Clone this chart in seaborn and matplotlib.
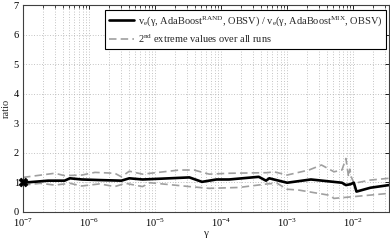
import numpy as np
import pandas as pd
import seaborn as sns
import matplotlib
matplotlib.use("Agg")
import matplotlib.pyplot as plt
from matplotlib.ticker import LogLocator, LogFormatterMathtext, NullFormatter

# ---- data (log10 gamma, ratio) ----
ratio_exp = [-7.0, -6.62, -6.37, -6.29, -6.11, -5.84, -5.51, -5.39, -5.19, -5.08,
             -4.48, -4.29, -4.07, -3.88, -3.43, -3.32, -3.27, -3.20, -3.00, -2.64,
             -2.17, -2.11, -2.04, -1.99, -1.95, -1.74, -1.46]
ratio_val = [0.99, 1.06, 1.06, 1.14, 1.10, 1.08, 1.06, 1.14, 1.10, 1.11,
             1.17, 1.02, 1.10, 1.10, 1.19, 1.06, 1.14, 1.10, 0.99, 1.10,
             0.99, 0.91, 0.94, 0.99, 0.69, 0.82, 0.91]

upper_exp = [-7.0, -6.52, -6.37, -6.11, -5.91, -5.61, -5.51, -5.39, -5.19, -4.63,
             -4.41, -4.18, -3.88, -3.30, -3.20, -3.00, -2.67, -2.48, -2.29, -2.17,
             -2.11, -2.07, -2.05, -2.03, -1.99, -1.74, -1.46]
upper_val = [1.17, 1.31, 1.23, 1.25, 1.34, 1.31, 1.19, 1.38, 1.28, 1.42,
             1.42, 1.28, 1.31, 1.33, 1.36, 1.25, 1.42, 1.59, 1.36, 1.42,
             1.81, 1.19, 1.45, 1.20, 0.97, 1.08, 1.14]

lower_exp = [-7.0, -6.74, -6.52, -6.29, -6.11, -5.84, -5.61, -5.45, -5.19, -5.08,
             -4.48, -4.18, -3.73, -3.30, -3.15, -3.00, -2.82, -2.37, -2.29, -1.99,
             -1.46]
lower_val = [0.91, 0.97, 0.91, 0.97, 0.88, 0.95, 0.86, 0.97, 0.86, 0.99,
             0.86, 0.80, 0.83, 0.95, 0.97, 0.77, 0.74, 0.57, 0.46, 0.52,
             0.63]

start_exp = [-7.0]
start_val = [1.0]

x_ticks_exp = [-7, -6, -5, -4, -3, -2]
y_ticks = [0, 1, 2, 3, 4, 5, 6, 7]

label_ratio = (r"v$_\mathrm{e}$(γ, AdaBoost$^\mathrm{RAND}$, OBSV) / "
               r"v$_\mathrm{e}$(γ, AdaBoost$^\mathrm{MIX}$, OBSV)")
label_ext = r"2$^\mathrm{nd}$ extreme values over all runs"

sns.set_theme(style="white")
plt.rcParams["font.family"] = ["Liberation Serif", "DejaVu Serif"]
plt.rcParams["mathtext.fontset"] = "custom"
plt.rcParams["mathtext.rm"] = "Liberation Serif"
plt.rcParams["mathtext.it"] = "Liberation Serif:italic"
plt.rcParams["mathtext.bf"] = "Liberation Serif:bold"

df_r = pd.DataFrame({"g": 10.0 ** np.array(ratio_exp), "v": ratio_val})
df_u = pd.DataFrame({"g": 10.0 ** np.array(upper_exp), "v": upper_val})
df_l = pd.DataFrame({"g": 10.0 ** np.array(lower_exp), "v": lower_val})
df_s = pd.DataFrame({"g": 10.0 ** np.array(start_exp), "v": start_val})

fig = plt.figure(figsize=(3.9, 2.42), dpi=100)
ax = fig.add_axes([0.059, 0.124, 0.938, 0.855])

gray = "#a0a0a0"
sns.lineplot(data=df_u, x="g", y="v", ax=ax, color=gray, lw=1.2,
             linestyle=(0, (4.5, 2.5)), estimator=None, sort=False, label=label_ext)
sns.lineplot(data=df_l, x="g", y="v", ax=ax, color=gray, lw=1.2,
             linestyle=(0, (4.5, 2.5)), estimator=None, sort=False, label="_nolegend_")
sns.lineplot(data=df_r, x="g", y="v", ax=ax, color="black", lw=1.9,
             estimator=None, sort=False, label=label_ratio)
sns.scatterplot(data=df_s, x="g", y="v", ax=ax, marker="X", s=40,
                color="black", edgecolor="black", linewidth=0.5,
                legend=False, zorder=5)
for coll in ax.collections:
    coll.set_clip_on(False)

ax.set_xscale("log")
ax.set_xlim(1e-7, 10 ** -1.46)
ax.set_ylim(0, 7)
ax.xaxis.set_major_locator(LogLocator(base=10, numticks=20))
ax.xaxis.set_minor_locator(LogLocator(base=10, subs=np.arange(2, 10), numticks=50))
ax.xaxis.set_major_formatter(LogFormatterMathtext())
ax.xaxis.set_minor_formatter(NullFormatter())
ax.set_xticks([10.0 ** e for e in x_ticks_exp])
ax.set_yticks(y_ticks)

ax.grid(True, which="major", axis="both", color="#b0b0b0", linestyle=(0, (1, 2.2)), lw=0.6)
ax.grid(True, which="minor", axis="x", color="#b0b0b0", linestyle=(0, (1, 2.2)), lw=0.6)

for s in ax.spines.values():
    s.set_color("#404040")
    s.set_linewidth(0.8)
    s.set_visible(True)

ax.tick_params(axis="both", which="both", direction="in", top=True, right=True,
               labelsize=7.5, colors="black")
ax.tick_params(axis="x", which="major", pad=3.5)
ax.tick_params(axis="y", which="major", pad=3)
ax.tick_params(axis="both", which="major", length=3, width=0.6)
ax.tick_params(axis="both", which="minor", length=1.8, width=0.5)

ax.set_xlabel("γ", fontsize=8, labelpad=0)
ax.set_ylabel("ratio", fontsize=7.5, labelpad=2)

handles, labels = ax.get_legend_handles_labels()
order = [labels.index(label_ratio), labels.index(label_ext)]
leg = ax.legend([handles[i] for i in order], [labels[i] for i in order],
                loc="upper right", bbox_to_anchor=(0.993, 0.975), fontsize=7.5,
                frameon=True, fancybox=False, framealpha=1, edgecolor="black",
                handlelength=2.4, handletextpad=0.3, borderpad=0.4,
                labelspacing=0.4, borderaxespad=0)
leg.get_frame().set_linewidth(0.8)

fig.savefig("out.png", dpi=100)
